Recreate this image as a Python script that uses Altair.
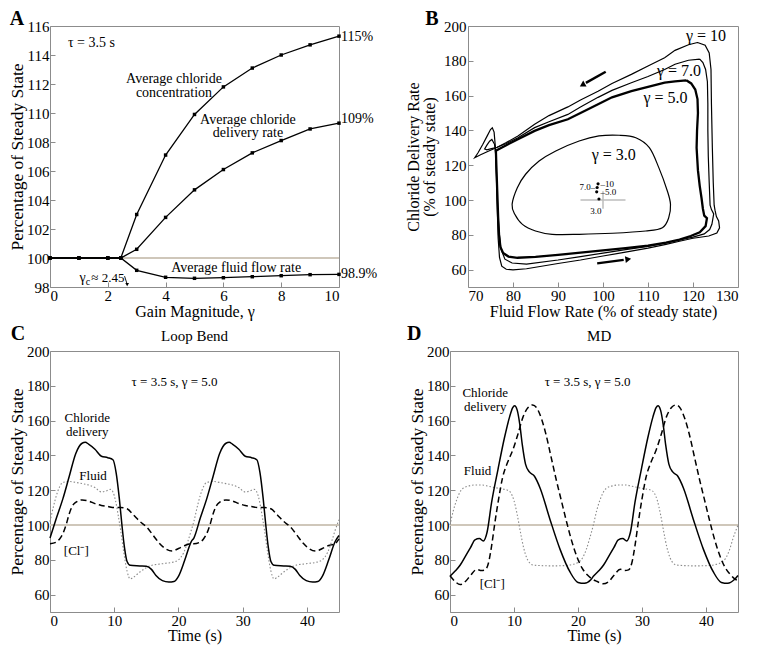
import altair as alt
import pandas as pd

FONT = "Liberation Serif"
FRAME = "#8c8c8c"
REF = "#cfc7ba"

# ---------------- Panel A ----------------
gamma = [0, 1, 2, 2.45, 3, 4, 5, 6, 7, 8, 9, 10]
avg_conc = [100, 100, 100, 100, 103.0, 107.1, 109.9, 111.8, 113.1, 114.0, 114.7, 115.3]
avg_deliv = [100, 100, 100, 100, 100.6, 102.8, 104.7, 106.1, 107.25, 108.1, 108.9, 109.3]
avg_fluid = [100, 100, 100, 100, 99.15, 98.67, 98.6, 98.64, 98.71, 98.78, 98.85, 98.87]

# ---------------- Panel B (limit cycles) ----------------
g3_f = [79.8, 80.96, 82.8, 85.8, 89.5, 94.7, 99.1, 103.6, 107.3, 110.3, 112.4, 114.3, 115.0,
        114.6, 113.2, 109.5, 102.1, 94.7, 88.7, 85.0, 82.1, 80.4]
g3_d = [97.5, 107.1, 114.8, 122.4, 128.2, 133.9, 136.8, 137.2, 135.8, 130.1, 118.6, 105.2, 97.5,
        89.8, 84.1, 82.2, 80.9, 80.3, 80.3, 82.2, 86.0, 91.8]

g5_f = [118.5, 116, 113.7, 110, 106.3, 102, 98.9, 95, 92.2, 88, 84.8, 81.1, 78.5, 76.8, 76.2,
        76.3, 76.5, 76.7, 76.9, 77.2, 77.8, 79, 81, 85, 90, 95, 100, 105, 110, 114, 117, 119.5,
        121.5, 122.8, 123.1, 122.5, 122.2, 121.9, 121.5, 121.1, 120.8, 120.9, 121.1, 121, 120.5,
        119.6, 118.5]
g5_d = [168.8, 168.2, 167.4, 165, 162.6, 159, 155, 150, 146.4, 143, 139.7, 134.9, 131.5, 129.2,
        128.3, 120, 105, 90, 80, 73, 69.5, 67.5, 66.8, 67.3, 68.5, 69.7, 71, 72.3, 73.8, 75.5,
        77.2, 79.3, 81.5, 85, 89.5, 91, 95, 101, 108, 117, 130, 140, 150, 158, 163.5, 167, 168.8]

g7_f = [121.5, 119, 116, 113.7, 110, 106.3, 102, 98.9, 95, 92.2, 88, 84.8, 81.1, 78.5, 76.5,
        75.2, 74.2, 73.7, 74.2, 74.8, 75.3, 75.9, 76.2, 76.4, 76.6, 76.9, 77.3, 78.2, 79.8, 83,
        90, 95, 100, 105, 110, 114, 117, 120, 122.5, 123.7, 124.2, 124.6, 124.1, 123.8, 123.6,
        123.4, 123.3, 123.3, 123.2, 122.8, 122.2, 121.5]
g7_d = [181, 180.3, 178, 175, 171, 167.4, 163, 159, 153.5, 149.2, 145, 141.6, 135.8, 132.5,
        130.3, 129.5, 128.8, 129.3, 131.5, 133.8, 134.8, 132, 125, 110, 95, 82, 72, 66, 63.8,
        63.2, 65.5, 67.5, 69.5, 71.5, 73.3, 75.3, 77, 78.7, 80.5, 83, 86, 92, 94.5, 97, 110,
        125, 140, 155, 168, 175, 179, 181]

g10_f = [121, 119, 116, 113.7, 110, 106.3, 102, 98.9, 95, 92.2, 88, 84.8, 81.1, 78.5, 76.5,
         74.5, 72.8, 71.5, 72.2, 73.3, 74.3, 75.0, 75.4, 75.8, 76.1, 76.3, 76.5, 76.7, 77.0,
         77.5, 78.5, 80, 83, 90, 95, 100, 105, 110, 114, 117, 120, 123.5, 125.3, 125.9, 125.7,
         125.2, 124.9, 124.7, 124.5, 124.3, 124.1, 124.0, 123.6, 122.7, 121]
g10_d = [190.5, 189.2, 186, 181.8, 177, 172.2, 167, 162.5, 157.5, 153.5, 148.5, 143.5, 136.8,
         133, 130.3, 128, 126, 124.3, 127, 132, 137, 140.5, 141.5, 139, 130, 115, 95, 78, 67,
         62, 60.2, 59.8, 60.5, 63.5, 65.5, 67.8, 70, 72.3, 74.5, 76.3, 78, 79.3, 81, 84, 88,
         90.5, 94, 97, 110, 130, 155, 175, 184.5, 189, 190.5]

# average positions of each cycle (fluid, delivery)
avg_pt_f = [99.1, 98.6, 98.7, 98.9]
avg_pt_d = [100.6, 104.7, 107.2, 109.3]

# ---------------- Panel C (loop bend) ----------------
c_t_del = [0, 1, 2, 3, 4, 5, 5.5, 6, 7, 8, 9, 9.8, 10.3, 10.8, 11.2, 11.6, 12, 12.5, 14, 15,
           15.8, 16.5, 17.5, 18.5, 19.3, 20, 21, 22, 22.4, 23.4, 24.4, 25.4, 26.4, 27.4, 27.9,
           28.4, 29.4, 30.4, 31.4, 32.2, 32.7, 33.2, 33.6, 34, 34.4, 34.9, 36.4, 37.4, 38.2,
           38.9, 39.9, 40.9, 41.7, 42.4, 43.4, 44.4, 45]
c_del = [92.5, 104, 115, 128, 141, 147, 147.5, 146.5, 143.5, 139.5, 138.7, 137.5, 130, 115,
         100, 87, 79, 76.8, 76.5, 76.3, 74.5, 71, 68, 67.2, 67.5, 70.5, 80, 90.5, 92.5, 104, 115,
         128, 141, 147, 147.5, 146.5, 143.5, 139.5, 138.7, 137.5, 130, 115, 100, 87, 79, 76.8,
         76.5, 76.3, 74.5, 71, 68, 67.2, 67.5, 70.5, 80, 90.5, 94]

c_t_fl = [0, 0.5, 1, 1.5, 2, 3, 4, 5, 6, 7, 8, 8.7, 9.4, 9.8, 10.2, 10.6, 11, 11.5, 12, 12.5,
          13, 14, 15, 16, 17, 18, 19, 20, 20.8, 21.5, 22, 22.4, 22.9, 23.4, 23.9, 24.4, 25.4,
          26.4, 27.4, 28.4, 29.4, 30.4, 31.1, 31.8, 32.2, 32.6, 33, 33.4, 33.9, 34.4, 34.9, 35.4,
          36.4, 37.4, 38.4, 39.4, 40.4, 41.4, 42.4, 43.2, 43.9, 44.4, 45]
c_fl = [102, 110, 117, 122, 124.5, 125, 124.5, 123.8, 123, 121.5, 119, 119.5, 120.5, 119, 114,
        106, 97, 84, 73.5, 69, 70, 73, 75.5, 77, 77.5, 78, 78.5, 80, 84, 91, 97, 102, 110, 117,
        122, 124.5, 125, 124.5, 123.8, 123, 121.5, 119, 119.5, 120.5, 119, 114, 106, 97, 84,
        73.5, 69, 70, 73, 75.5, 77, 77.5, 78, 78.5, 80, 84, 91, 97, 103]

c_t_cl = [0, 1, 1.5, 2, 2.5, 3, 3.5, 4, 5, 6, 7, 8, 9, 10, 11, 12, 13, 14, 15, 16, 17, 18, 19,
          20, 21, 22, 22.4, 23.4, 23.9, 24.4, 24.9, 25.4, 25.9, 26.4, 27.4, 28.4, 29.4, 30.4,
          31.4, 32.4, 33.4, 34.4, 35.4, 36.4, 37.4, 38.4, 39.4, 40.4, 41.4, 42.4, 43.4, 44.4, 45]
c_cl = [89.2, 90.2, 92, 95, 100, 106.5, 111, 113, 114.4, 113.8, 112.3, 111.2, 110.6, 110, 110,
        109.3, 105.8, 102, 99, 94.4, 89.6, 86.3, 85, 86.5, 88.2, 89.3, 89.2, 90.2, 92, 95, 100,
        106.5, 111, 113, 114.4, 113.8, 112.3, 111.2, 110.6, 110, 110, 109.3, 105.8, 102, 99,
        94.4, 89.6, 86.3, 85, 86.5, 88.2, 89.3, 92]

# ---------------- Panel D (macula densa) ----------------
d_t_del = [0, 0.8, 1.6, 2.4, 3.2, 3.9, 4.6, 5.2, 5.8, 6.5, 7.5, 8.5, 9.3, 9.8, 10.1, 10.5, 10.9,
           11.3, 11.8, 12.4, 13.2, 14.1, 15.6, 17.2, 18.75, 20, 21, 22, 22.4, 23.2, 24, 24.8,
           25.6, 26.3, 27, 27.6, 28.2, 28.9, 29.9, 30.9, 31.7, 32.2, 32.5, 32.9, 33.3, 33.7,
           34.2, 34.8, 35.6, 36.5, 38, 39.6, 41.15, 42.4, 43.4, 44.4, 45]
d_del = [70.5, 73.5, 77, 82, 87, 91.5, 92.2, 90.8, 96, 113, 132, 150, 162, 167.5, 168.6, 166,
         158, 146, 135, 130.5, 128, 121, 103.5, 86, 73, 67, 66.5, 68.5, 70.5, 73.5, 77, 82, 87,
         91.5, 92.2, 90.8, 96, 113, 132, 150, 162, 167.5, 168.6, 166, 158, 146, 135, 130.5, 128,
         121, 103.5, 86, 73, 67, 66.5, 68.5, 71]

d_t_cl = [0, 0.8, 1.6, 2.4, 3.2, 4.2, 4.9, 5.5, 6, 6.5, 7, 7.6, 8.2, 9, 9.8, 10.6, 11.4, 12.2,
          12.9, 13.6, 14.3, 15, 15.8, 16.6, 17.4, 18.2, 19, 19.8, 20.6, 21.4, 22.2, 23, 23.9,
          24.8, 25.6, 26.6, 27.3, 27.9, 28.4, 28.9, 29.4, 30, 30.6, 31.4, 32.2, 33, 33.8, 34.6,
          35.3, 36, 36.7, 37.4, 38.2, 39, 39.8, 40.6, 41.4, 42.2, 43, 43.8, 44.5, 45]
d_cl = [70.8, 67.5, 65.8, 67.5, 71, 74.5, 73.8, 74.2, 78, 88, 101, 115, 127, 136, 143, 152, 162,
        167.5, 169, 167, 161, 152, 139, 126, 114, 102, 91, 82, 75.5, 71.5, 69, 67.5, 66.2, 67.5,
        71, 74.5, 73.8, 74.2, 78, 88, 101, 115, 127, 136, 143, 152, 162, 167.5, 169, 167, 161,
        152, 139, 126, 114, 102, 91, 82, 75.5, 71.5, 69, 68]

d_t_fl = [0, 0.5, 1, 1.5, 2, 3, 4, 5, 6, 7, 8, 9, 9.5, 10, 10.5, 11, 11.5, 12, 12.5, 13, 14, 16,
          18, 19, 20, 20.7, 21.3, 21.8, 22.4, 22.9, 23.4, 23.9, 24.4, 25.4, 26.4, 27.4, 28.4,
          29.4, 30.4, 31.4, 31.9, 32.4, 32.9, 33.4, 33.9, 34.4, 34.9, 35.4, 36.4, 38.4, 40.4,
          41.4, 42.4, 43.1, 43.7, 44.2, 45]
d_fl = [100, 108, 114, 118.5, 121, 122.5, 123, 123, 122.3, 121.5, 120.8, 120, 118.5, 114, 106,
        96, 87, 81, 78, 77, 76.7, 76.5, 76.7, 77.2, 78.5, 81, 86, 92, 100, 108, 114, 118.5, 121,
        122.5, 123, 123, 122.3, 121.5, 120.8, 120, 118.5, 114, 106, 96, 87, 81, 78, 77, 76.7,
        76.5, 76.7, 77.2, 78.5, 81, 86, 92, 100]


# ---------------- helpers ----------------
def axis(values, title, **kw):
    return alt.Axis(values=values, title=title, tickSize=5, offset=-5, tickColor=FRAME, **kw)


def texts(rows, enc, **style):
    df = pd.DataFrame(rows, columns=["x", "y", "t"])
    base = dict(font=FONT, fontSize=14, baseline="middle", align="center", color="black")
    base.update(style)
    return alt.Chart(df).mark_text(**base).encode(x=enc[0], y=enc[1], text="t:N")


def series_df(pairs):
    rows = []
    for name, xs, ys in pairs:
        for i, (a, b) in enumerate(zip(xs, ys)):
            rows.append({"x": a, "y": b, "s": name, "i": i})
    return pd.DataFrame(rows)


# ---------------- Panel A chart ----------------
XA = alt.X("x:Q", scale=alt.Scale(domain=[0, 10], nice=False),
           axis=axis([0, 2, 4, 6, 8, 10], "Gain Magnitude, γ", titlePadding=0, labelPadding=1))
YA = alt.Y("y:Q", scale=alt.Scale(domain=[98, 116], nice=False, zero=False),
           axis=axis(list(range(98, 117, 2)), "Percentage of Steady State", titlePadding=0,
                     labelPadding=1, titleFontSize=17.5))
encA = (XA, YA)

dfA = series_df([("conc", gamma, avg_conc), ("deliv", gamma, avg_deliv),
                 ("fluid", gamma, avg_fluid)])
refA = alt.Chart(pd.DataFrame({"x": [0], "x2": [10], "y": [100]})).mark_rule(
    color=REF, strokeWidth=2).encode(x=XA, x2="x2:Q", y=YA)
linesA = alt.Chart(dfA).mark_line(color="black", strokeWidth=1.3).encode(
    x=XA, y=YA, detail="s:N", order="i:Q")
ptsA = alt.Chart(dfA).mark_point(filled=True, color="black", size=12, shape="square",
                                 opacity=1).encode(x=XA, y=YA)
arrowA_line = alt.Chart(pd.DataFrame({"x": [2.58, 2.66], "y": [98.75, 98.25]})).mark_line(
    color="black", strokeWidth=0.9).encode(x=XA, y=YA)
arrowA_head = alt.Chart(pd.DataFrame({"x": [2.67], "y": [98.17]})).mark_point(
    shape="triangle-down", filled=True, color="black", size=14, opacity=1).encode(x=XA, y=YA)
txtA = texts([(0.55, 114.8, "τ = 3.5 s"), (10, 115.24, "115%"), (10, 109.6, "109%"),
              (10, 98.88, "98.9%")], encA, align="left", dx=2, fontSize=14)
txtA_gc = texts([(1.43, 98.62, "≈ 2.45")], encA, align="left", fontSize=13)
txtA2 = texts([(4.29, 112.35, "Average chloride"), (4.29, 111.4, "concentration"),
               (6.85, 109.55, "Average chloride"), (6.85, 108.65, "delivery rate"),
               (6.44, 99.3, "Average fluid flow rate"), (1.13, 98.62, "γ")],
              encA, fontSize=14)
txtA3 = texts([(1.31, 98.36, "c")], encA, fontSize=10)
letterA = texts([(-1.14, 116.48, "A")], encA, fontSize=20, fontWeight="bold")

panelA = alt.layer(refA, linesA, ptsA, arrowA_line, arrowA_head, txtA, txtA_gc, txtA2, txtA3,
                   letterA).properties(width=289, height=261)

# ---------------- Panel B chart ----------------
XB = alt.X("x:Q", scale=alt.Scale(domain=[70, 130], nice=False, zero=False),
           axis=axis(list(range(70, 131, 10)), "Fluid Flow Rate (% of steady state)",
                     titlePadding=0, labelPadding=1))
YB = alt.Y("y:Q", scale=alt.Scale(domain=[50, 200], nice=False, zero=False),
           axis=axis(list(range(60, 201, 20)), ["Chloride Delivery Rate", "(% of steady state)"],
                     titlePadding=6, labelPadding=2, titleLineHeight=16))
encB = (XB, YB)

crossB_h = alt.Chart(pd.DataFrame({"x": [95], "x2": [105], "y": [100]})).mark_rule(
    color="#bdbdbd", strokeWidth=1.5).encode(x=XB, x2="x2:Q", y=YB)
crossB_v = alt.Chart(pd.DataFrame({"x": [100], "y": [95], "y2": [105]})).mark_rule(
    color="#bdbdbd", strokeWidth=1.5).encode(x=XB, y=YB, y2="y2:Q")
loop3 = alt.Chart(series_df([("3", g3_f, g3_d)])).mark_line(
    color="black", strokeWidth=1.2, interpolate="cardinal-closed").encode(
    x=XB, y=YB, order="i:Q")
loops_thin = alt.Chart(series_df([("7", g7_f, g7_d), ("10", g10_f, g10_d)])).mark_line(
    color="black", strokeWidth=1.2).encode(x=XB, y=YB, detail="s:N", order="i:Q")
loop5 = alt.Chart(series_df([("5", g5_f, g5_d)])).mark_line(
    color="black", strokeWidth=2.3).encode(x=XB, y=YB, order="i:Q")
dotsB = alt.Chart(pd.DataFrame({"x": avg_pt_f, "y": avg_pt_d})).mark_point(
    filled=True, color="black", size=10, opacity=1).encode(x=XB, y=YB)
arrowsB = alt.Chart(pd.DataFrame({"x": [100.6, 96.2, 98.7, 104.6], "y": [173.7, 167.3, 63.6, 65.6],
                                  "s": ["a", "a", "b", "b"]})).mark_line(
    color="black", strokeWidth=2.4).encode(x=XB, y=YB, detail="s:N")
headsB = alt.Chart(pd.DataFrame({"x": [95.6, 105.4], "y": [166.4, 65.9], "a": [240, 82]})).mark_point(
    shape="triangle", filled=True, color="black", size=45, opacity=1).encode(
    x=XB, y=YB, angle=alt.Angle("a:Q", scale=None))
txtB = texts([(122.9, 194.3, "γ = 10"), (116.9, 174.1, "γ = 7.0"), (113.9, 158.4, "γ = 5.0"),
              (102.4, 125.9, "γ = 3.0")], encB, fontSize=16)
txtB_small_l = texts([(99.0, 109.3, "–10"), (99.0, 104.6, "–5.0")], encB, fontSize=9,
                     align="left", dx=2)
txtB_small_r = texts([(98.5, 107.4, "7.0–")], encB, fontSize=9, align="right", dx=-1)
txtB_small_c = texts([(98.4, 93.5, "3.0")], encB, fontSize=9)
letterB = texts([(62.0, 204, "B")], encB, fontSize=20, fontWeight="bold")

panelB = alt.layer(crossB_h, crossB_v, loop3, loops_thin, loop5, dotsB, arrowsB, headsB,
                   txtB, txtB_small_l, txtB_small_r, txtB_small_c, letterB).properties(
    width=270, height=261)


# ---------------- Panels C, D ----------------
def time_panel(del_t, del_v, fl_t, fl_v, cl_t, cl_v, title_xy, title, letter_xy, letter,
               annos, width):
    X = alt.X("x:Q", scale=alt.Scale(domain=[0, 45], nice=False),
              axis=axis([0, 10, 20, 30, 40], "Time (s)", titlePadding=-1, labelPadding=1))
    Y = alt.Y("y:Q", scale=alt.Scale(domain=[50, 200], nice=False, zero=False),
              axis=axis(list(range(60, 201, 20)), "Percentage of Steady State",
                        titlePadding=0, labelPadding=1, titleFontSize=17.5))
    enc = (X, Y)
    ref = alt.Chart(pd.DataFrame({"x": [0], "x2": [45], "y": [100]})).mark_rule(
        color=REF, strokeWidth=2).encode(x=X, x2="x2:Q", y=Y)
    fl = alt.Chart(series_df([("fl", fl_t, fl_v)])).mark_line(
        color="#8a8a8a", strokeWidth=1.1, strokeDash=[1.5, 2], interpolate="monotone").encode(
        x=X, y=Y, order="i:Q")
    cl = alt.Chart(series_df([("cl", cl_t, cl_v)])).mark_line(
        color="black", strokeWidth=1.5, strokeDash=[6, 3.5], interpolate="monotone").encode(
        x=X, y=Y, order="i:Q")
    de = alt.Chart(series_df([("de", del_t, del_v)])).mark_line(
        color="black", strokeWidth=1.5, interpolate="monotone").encode(x=X, y=Y, order="i:Q")
    txt = texts(annos, enc, fontSize=13)
    ttl = texts([(title_xy[0], title_xy[1], title)], enc, fontSize=15)
    let = texts([(letter_xy[0], letter_xy[1], letter)], enc, fontSize=20, fontWeight="bold")
    return alt.layer(ref, fl, cl, de, txt, ttl, let).properties(width=width, height=261)


panelC = time_panel(c_t_del, c_del, c_t_fl, c_fl, c_t_cl, c_cl, (22.5, 208.6), "Loop Bend",
                    (-5.0, 209.6), "C",
                    [(19.4, 182.4, "τ = 3.5 s, γ = 5.0"), (5.8, 161.5, "Chloride"),
                     (5.8, 153.6, "delivery"), (6.7, 128.3, "Fluid"), (4.1, 85.2, "[Cl⁻]")],
                    289)
panelD = time_panel(d_t_del, d_del, d_t_fl, d_fl, d_t_cl, d_cl, (23.3, 208.6), "MD",
                    (-5.6, 209.6), "D",
                    [(21.5, 182.4, "τ = 3.5 s, γ = 5.0"), (5.5, 175.9, "Chloride"),
                     (5.5, 167.6, "delivery"), (4.3, 131.2, "Fluid"), (6.6, 66.0, "[Cl⁻]")],
                    288)

row1 = alt.hconcat(panelA, panelB, spacing=129, bounds="flush")
row2 = alt.hconcat(panelC, panelD, spacing=111, bounds="flush")
chart = alt.vconcat(row1, row2, spacing=3).properties(
    padding={"left": 0, "top": 0, "right": 4, "bottom": 2}, background="white"
).configure_view(stroke=FRAME, strokeWidth=1).configure_axis(
    labelFont=FONT, titleFont=FONT, labelFontSize=15, titleFontSize=16,
    titleFontWeight="normal", labelColor="black", titleColor="black",
    domain=False, grid=False
)

chart.save("out.html", embed_options={"renderer": "svg", "actions": False})
